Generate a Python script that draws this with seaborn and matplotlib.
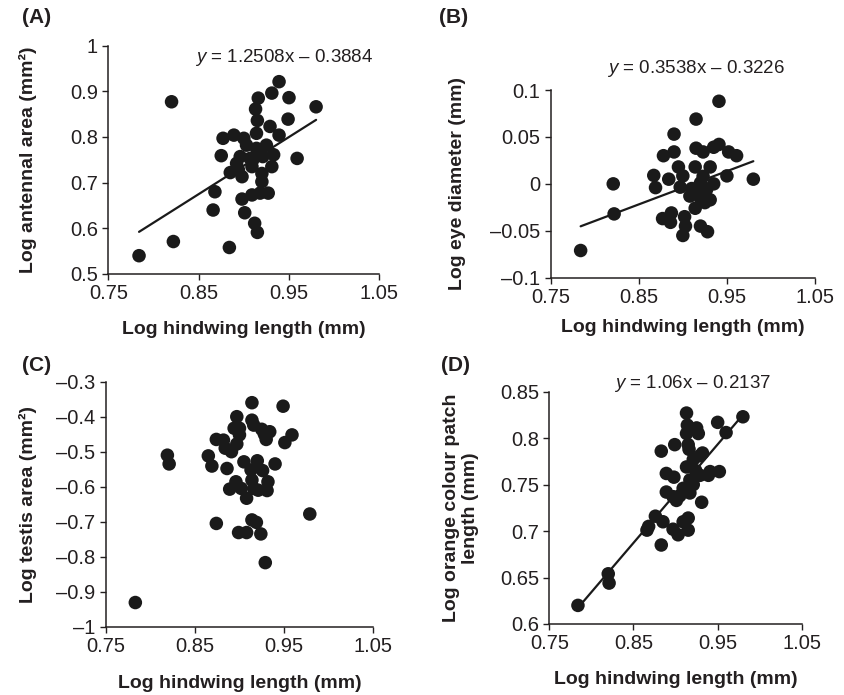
import numpy as np
import pandas as pd
import matplotlib
matplotlib.use('Agg')
import matplotlib.pyplot as plt
import seaborn as sns

# Panel data (log hindwing length vs. trait)
a_x = [0.784, 0.820, 0.822, 0.884, 0.866, 0.868, 0.875, 0.877, 0.889, 0.900,
       0.885, 0.894, 0.898, 0.898, 0.901, 0.909, 0.912, 0.915, 0.918, 0.927,
       0.920, 0.920, 0.931, 0.933, 0.925, 0.914, 0.903, 0.896, 0.892, 0.907,
       0.909, 0.914, 0.929, 0.939, 0.915, 0.913, 0.916, 0.931, 0.939, 0.950,
       0.949, 0.959, 0.980, 0.910, 0.921]
a_y = [0.540, 0.877, 0.571, 0.558, 0.640, 0.680, 0.759, 0.797, 0.804, 0.797,
       0.722, 0.728, 0.713, 0.664, 0.634, 0.673, 0.611, 0.591, 0.677, 0.677,
       0.702, 0.720, 0.735, 0.761, 0.782, 0.775, 0.782, 0.757, 0.742, 0.753,
       0.735, 0.808, 0.823, 0.804, 0.836, 0.861, 0.885, 0.896, 0.921, 0.886,
       0.839, 0.753, 0.866, 0.750, 0.757]

b_x = [0.784, 0.821, 0.822, 0.867, 0.869, 0.884, 0.878, 0.890, 0.890, 0.895,
       0.900, 0.897, 0.877, 0.887, 0.886, 0.902, 0.903, 0.900, 0.915, 0.915,
       0.923, 0.935, 0.941, 0.941, 0.952, 0.961, 0.950, 0.980, 0.931, 0.914,
       0.920, 0.935, 0.910, 0.915, 0.927, 0.920, 0.931, 0.914, 0.920, 0.928,
       0.923, 0.908, 0.925, 0.918]
b_y = [-0.071, 0.000, -0.032, 0.009, -0.004, 0.005, 0.030, 0.034, 0.053, 0.018,
       0.0085, -0.0035, -0.037, -0.031, -0.041, -0.035, -0.045, -0.055, 0.069, 0.038,
       0.034, 0.039, 0.042, 0.088, 0.034, 0.030, 0.0085, 0.005, 0.018, 0.018,
       0.001, 0.000, -0.005, -0.010, -0.006, -0.015, -0.017, -0.026, -0.045, -0.051,
       0.008, -0.013, -0.020, -0.008]

c_x = [0.783, 0.819, 0.821, 0.865, 0.869, 0.874, 0.882, 0.874, 0.886, 0.889,
       0.891, 0.884, 0.897, 0.897, 0.894, 0.900, 0.900, 0.896, 0.899, 0.908,
       0.902, 0.908, 0.905, 0.914, 0.914, 0.916, 0.913, 0.914, 0.916, 0.914,
       0.919, 0.920, 0.921, 0.925, 0.928, 0.930, 0.934, 0.926, 0.931, 0.932,
       0.924, 0.929, 0.940, 0.949, 0.951, 0.959, 0.979]
c_y = [-0.931, -0.510, -0.535, -0.512, -0.541, -0.465, -0.467, -0.705, -0.548, -0.607,
       -0.500, -0.490, -0.478, -0.400, -0.433, -0.433, -0.452, -0.586, -0.731, -0.731,
       -0.605, -0.633, -0.529, -0.360, -0.410, -0.424, -0.552, -0.581, -0.605, -0.695,
       -0.702, -0.526, -0.610, -0.436, -0.450, -0.465, -0.443, -0.554, -0.611, -0.586,
       -0.735, -0.817, -0.535, -0.370, -0.474, -0.452, -0.678]

d_x = [0.784, 0.820, 0.821, 0.866, 0.868, 0.876, 0.885, 0.883, 0.883, 0.899,
       0.889, 0.898, 0.889, 0.897, 0.901, 0.897, 0.903, 0.909, 0.915, 0.915,
       0.913, 0.914, 0.913, 0.915, 0.916, 0.925, 0.927, 0.913, 0.921, 0.929,
       0.932, 0.917, 0.909, 0.921, 0.917, 0.929, 0.939, 0.941, 0.952, 0.931,
       0.950, 0.960, 0.980, 0.905, 0.924]
d_y = [0.620, 0.654, 0.644, 0.701, 0.705, 0.716, 0.710, 0.685, 0.786, 0.793,
       0.762, 0.758, 0.742, 0.737, 0.733, 0.702, 0.696, 0.710, 0.714, 0.701,
       0.827, 0.814, 0.805, 0.793, 0.788, 0.811, 0.805, 0.769, 0.777, 0.781,
       0.784, 0.755, 0.746, 0.750, 0.741, 0.760, 0.760, 0.764, 0.764, 0.731,
       0.817, 0.806, 0.823, 0.738, 0.765]

# fitted lines printed on the panels (slope, intercept); C has none
fits = {'A': (1.2508, -0.3884), 'B': (0.3538, -0.3226), 'C': None, 'D': (1.06, -0.2137)}
equations = {'A': '$y$ = 1.2508x \u2013 0.3884', 'B': '$y$ = 0.3538x \u2013 0.3226',
             'C': None, 'D': '$y$ = 1.06x \u2013 0.2137'}

x_ticks = [0.75, 0.85, 0.95, 1.05]
x_ticklabels = ['0.75', '0.85', '0.95', '1.05']
a_yticks = [0.5, 0.6, 0.7, 0.8, 0.9, 1.0]
a_yticklabels = ['0.5', '0.6', '0.7', '0.8', '0.9', '1']
b_yticks = [-0.1, -0.05, 0, 0.05, 0.1]
b_yticklabels = ['\u20130.1', '\u20130.05', '0', '0.05', '0.1']
c_yticks = [-1.0, -0.9, -0.8, -0.7, -0.6, -0.5, -0.4, -0.3]
c_yticklabels = ['\u20131', '\u20130.9', '\u20130.8', '\u20130.7', '\u20130.6',
                 '\u20130.5', '\u20130.4', '\u20130.3']
d_yticks = [0.6, 0.65, 0.7, 0.75, 0.8, 0.85]
d_yticklabels = ['0.6', '0.65', '0.7', '0.75', '0.8', '0.85']

x_label = 'Log hindwing length (mm)'
y_labels = {'A': 'Log antennal area (mm\u00b2)', 'B': 'Log eye diameter (mm)',
            'C': 'Log testis area (mm\u00b2)', 'D': 'Log orange colour patch\nlength (mm)'}

sns.set_style('ticks')
plt.rcParams['font.family'] = ['Liberation Sans', 'DejaVu Sans']
plt.rcParams['mathtext.fontset'] = 'custom'
plt.rcParams['mathtext.it'] = 'Liberation Sans:italic'
plt.rcParams['mathtext.rm'] = 'Liberation Sans'

INK = '#231f20'

fig = plt.figure(figsize=(8.45, 6.95), dpi=100)

# axes boxes in figure fractions: left, bottom, width, height
boxes = {
    'A': [0.1282, 0.6058, 0.3207, 0.3286],
    'B': [0.6517, 0.6004, 0.3128, 0.2701],
    'C': [0.1254, 0.0983, 0.3160, 0.3525],
    'D': [0.6501, 0.1022, 0.2988, 0.3342],
}
panels = {
    'A': (a_x, a_y, a_yticks, a_yticklabels),
    'B': (b_x, b_y, b_yticks, b_yticklabels),
    'C': (c_x, c_y, c_yticks, c_yticklabels),
    'D': (d_x, d_y, d_yticks, d_yticklabels),
}
eq_pos = {'A': (0.32, 0.946), 'B': (0.213, 1.117), 'D': (0.256, 1.037)}
ylab_x = {'A': -0.296, 'B': -0.351, 'C': -0.292, 'D': -0.35}
xlab_y = {'A': -0.245, 'B': -0.263, 'C': -0.230, 'D': -0.241}
tag_pos = {'A': (0.026, 0.975), 'B': (0.519, 0.975), 'C': (0.026, 0.474), 'D': (0.522, 0.474)}

for key, (xs, ys, yt, ytl) in panels.items():
    ax = fig.add_axes(boxes[key])
    df = pd.DataFrame({'x': xs, 'y': ys})
    sns.scatterplot(data=df, x='x', y='y', ax=ax, color='#1a1a1a', s=95,
                    edgecolor='none', linewidth=0, zorder=3, clip_on=False)
    if fits[key] is not None:
        m, c = fits[key]
        xl = np.array([min(xs), max(xs)])
        ax.plot(xl, m * xl + c, color='#1a1a1a', lw=1.6, zorder=4)
        ex, ey = eq_pos[key]
        ax.text(ex, ey, equations[key], transform=ax.transAxes, fontsize=13.5,
                color=INK, ha='left', va='center', clip_on=False)
    ax.set_xlim(0.75, 1.05)
    ax.set_ylim(yt[0], yt[-1])
    ax.set_xticks(x_ticks)
    ax.set_xticklabels(x_ticklabels)
    ax.set_yticks(yt)
    ax.set_yticklabels(ytl)
    ax.tick_params(axis='both', direction='out', length=4.5, width=1.0,
                   labelsize=14.5, colors=INK, pad=3)
    for side in ['top', 'right']:
        ax.spines[side].set_visible(False)
    for side in ['left', 'bottom']:
        ax.spines[side].set_color(INK)
        ax.spines[side].set_linewidth(1.1)
    ax.set_xlabel(x_label, fontsize=14, fontweight='bold', color=INK, va='center')
    ax.set_ylabel(y_labels[key], fontsize=14, fontweight='bold', color=INK,
                  va='center', ha='center', multialignment='center', linespacing=1.1)
    ax.xaxis.set_label_coords(0.5, xlab_y[key])
    ax.yaxis.set_label_coords(ylab_x[key], 0.5)
    ax.set_facecolor('white')
    fig.text(tag_pos[key][0], tag_pos[key][1], '(' + key + ')', fontsize=15,
             fontweight='bold', color=INK, ha='left', va='center')

fig.savefig('out.png', dpi=100, facecolor='white')
